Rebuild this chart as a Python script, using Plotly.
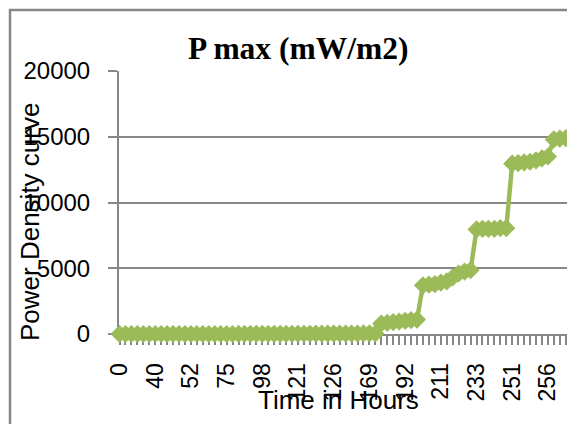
import plotly.graph_objects as go

# Category tick labels (time in hours), shown every 6th category
hour_labels = ["0", "40", "52", "75", "98", "121", "126", "169", "192", "211", "233", "251", "256"]
label_every = 6

# Pmax values (mW/m2), one per category
pmax = [
    0, 0, 0, 0, 0, 0, 0, 0, 0, 0,
    0, 0, 0, 0, 0, 0, 0, 0, 0, 0,
    5, 5, 5, 10, 10, 10, 10, 15, 15, 15,
    20, 20, 20, 25, 25, 25, 30, 30, 30, 35,
    35, 40, 40, 40,
    800, 850, 900, 950, 1000, 1050, 1100,
    3700, 3750, 3800, 3900, 4000, 4300, 4600, 4750, 4850,
    7950, 8000, 8000, 8000, 8050, 8050,
    12950, 13000, 13050, 13100, 13200, 13350, 13500,
    14800, 14850, 14900,
]

x_pos = list(range(len(pmax)))
tick_pos = [i * label_every for i in range(len(hour_labels))]

GREEN = "#9BBB59"
GRAY = "#878787"

fig = go.Figure()
fig.add_trace(go.Scatter(
    x=x_pos, y=pmax, mode="lines+markers",
    line=dict(color=GREEN, width=4.5),
    marker=dict(symbol="diamond", size=14, color=GREEN),
    cliponaxis=False, showlegend=False, hoverinfo="skip",
))

L, R, T, B = 119, 0, 71, 90
W, H = 567, 424
pw = W - L - R
ph = H - T - B

def px_x(p):
    return (p - L) / pw

def px_y(p):
    return (H - B - p) / ph

fig.update_layout(
    width=W, height=H,
    margin=dict(l=L, r=R, t=T, b=B, pad=0),
    paper_bgcolor="white", plot_bgcolor="white",
    font=dict(family="Liberation Sans, Arial, sans-serif", color="black"),
    xaxis=dict(
        range=[-0.084, 75.21], tickmode="array", tickvals=tick_pos, ticktext=hour_labels,
        tickangle=-90, tickfont=dict(size=23), ticks="outside", ticklen=9, tickwidth=1.5,
        tickcolor=GRAY, showline=True, linecolor=GRAY, linewidth=2, showgrid=False,
        zeroline=False, ticklabelstandoff=9, layer="below traces",
        minor=dict(ticks="outside", dtick=1, tick0=0, ticklen=9, tickwidth=1.5,
                   tickcolor=GRAY, showgrid=False),
    ),
    yaxis=dict(
        range=[0, 20000], tickmode="linear", tick0=0, dtick=5000, tickformat="d",
        tickfont=dict(size=24), ticks="outside", ticklen=9, tickwidth=2, tickcolor=GRAY,
        showline=True, linecolor=GRAY, linewidth=2, showgrid=True, gridcolor=GRAY,
        gridwidth=2, zeroline=False, ticklabelstandoff=13, layer="below traces",
    ),
    annotations=[
        dict(text="<b>P max (mW/m2)</b>", xref="paper", yref="paper",
             x=px_x(298), y=px_y(48), xanchor="center", yanchor="middle",
             showarrow=False,
             font=dict(family="Liberation Serif, Times New Roman, serif", size=31.5, color="black")),
        dict(text="Power Density curve", xref="paper", yref="paper",
             x=px_x(30), y=px_y(222), xanchor="center", yanchor="middle",
             textangle=-90, showarrow=False, font=dict(size=26, color="black")),
        dict(text="Time in Hours", xref="paper", yref="paper",
             x=px_x(338), y=px_y(400), xanchor="center", yanchor="middle",
             showarrow=False, font=dict(size=26, color="black")),
    ],
    shapes=[
        dict(type="rect", xref="paper", yref="paper",
             x0=px_x(10), x1=px_x(700), y0=px_y(600), y1=px_y(10),
             line=dict(color=GRAY, width=2.5), fillcolor="rgba(0,0,0,0)", layer="below"),
    ],
)

fig.write_html(
    "out.html",
    config={"displayModeBar": False},
    post_script="document.body.style.margin='0';document.body.style.overflow='hidden';",
)
